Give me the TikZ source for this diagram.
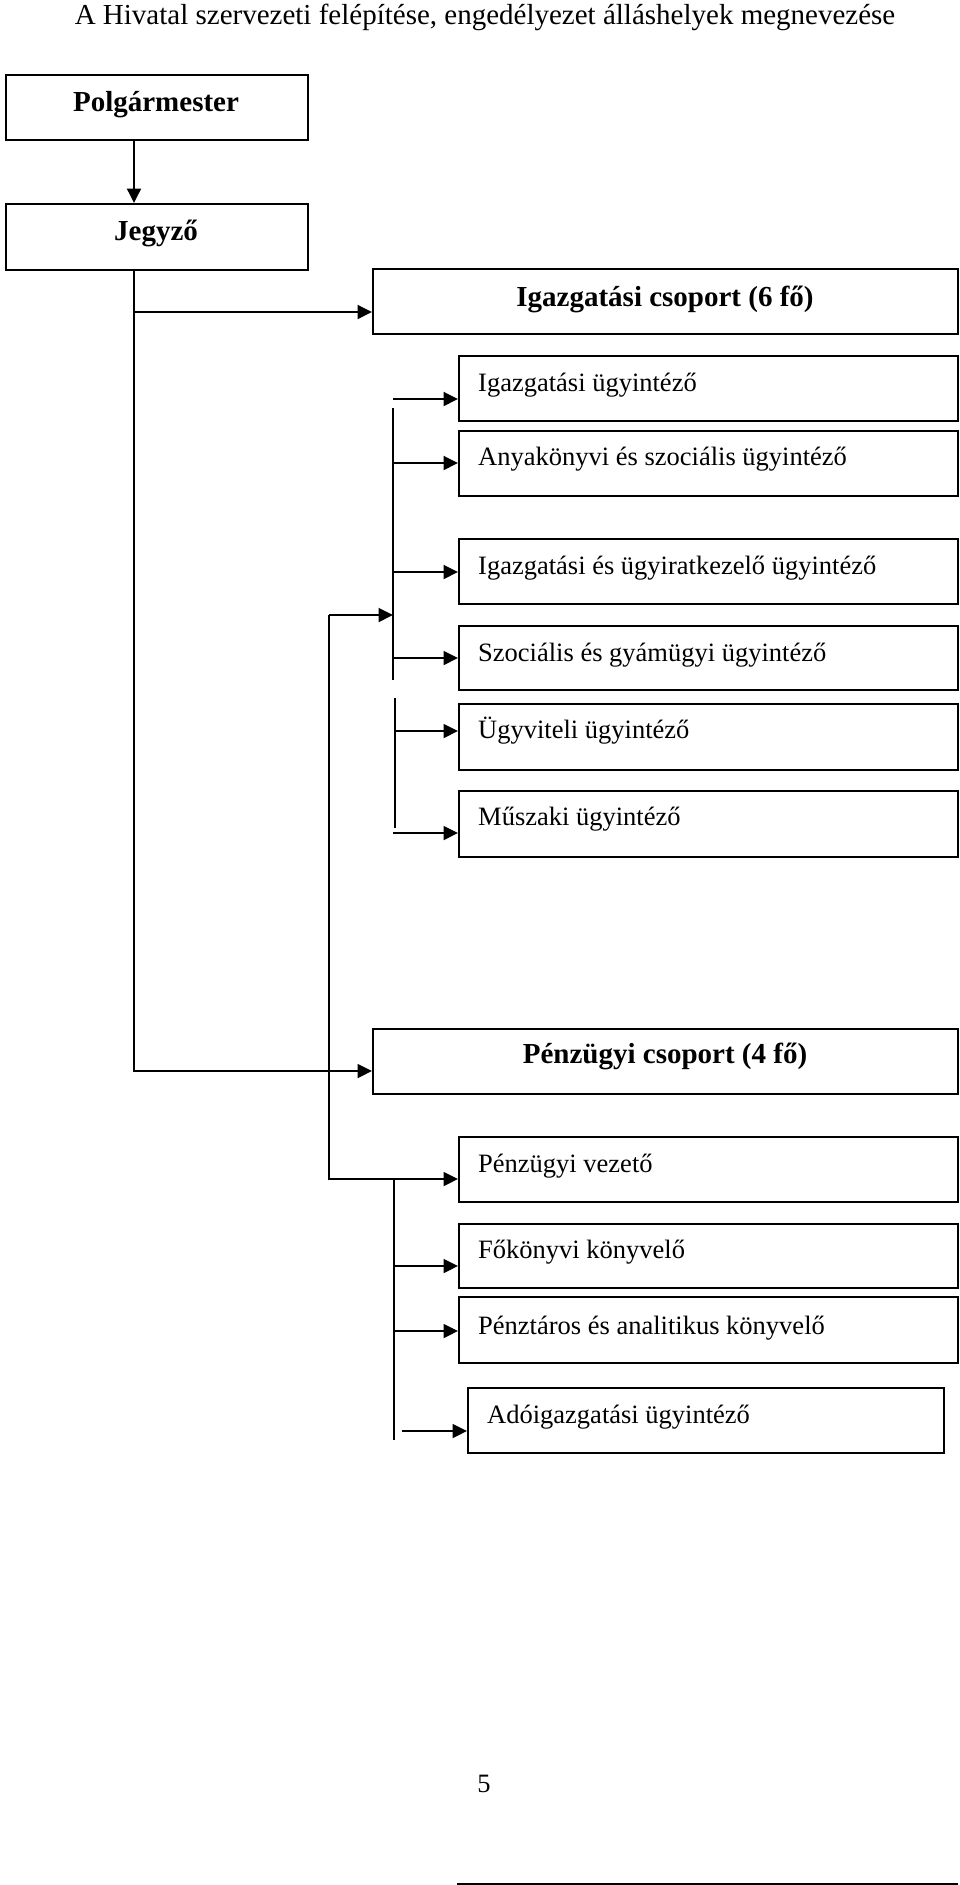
\documentclass[tikz,border=0pt]{standalone}
\usepackage{fontspec}
\setmainfont{Liberation Serif}
\usetikzlibrary{arrows.meta}
\begin{document}
\begin{tikzpicture}[x=1pt,y=-1pt,
  box/.style={draw, line width=2.1pt, inner sep=0pt, anchor=north west},
  conn/.style={line width=1.9pt},
  arr/.style={conn, -{Triangle[length=14.5pt,width=14pt]}},
  reg/.style={anchor=base west, inner sep=0pt, font=\fontsize{26.5}{30}\selectfont},
  hdr/.style={anchor=base, inner sep=0pt, font=\fontsize{29}{33}\selectfont\bfseries},
  plain/.style={anchor=base, inner sep=0pt, font=\fontsize{26.5}{30}\selectfont}]
\useasboundingbox (0,0) rectangle (960,1885);
\fill[white] (0,0) rectangle (960,1885);

% title
\node[plain, font=\fontsize{29}{33}\selectfont] (title) at (485,24) {A Hivatal szervezeti felépítése, engedélyezet álláshelyek megnevezése};

% boxes
\node[box, minimum width=302pt, minimum height=65pt] (pm) at (5,74) {};
\node[box, minimum width=302pt, minimum height=66pt] (jg) at (5,203) {};
\node[box, minimum width=585pt, minimum height=65pt] (ic) at (372,268) {};
\node[box, minimum width=499pt, minimum height=65pt] (b1) at (458,355) {};
\node[box, minimum width=499pt, minimum height=65pt] (b2) at (458,430) {};
\node[box, minimum width=499pt, minimum height=65pt] (b3) at (458,538) {};
\node[box, minimum width=499pt, minimum height=64pt] (b4) at (458,625) {};
\node[box, minimum width=499pt, minimum height=66pt] (b5) at (458,703) {};
\node[box, minimum width=499pt, minimum height=66pt] (b6) at (458,790) {};
\node[box, minimum width=585pt, minimum height=65pt] (pc) at (372,1028) {};
\node[box, minimum width=499pt, minimum height=65pt] (c1) at (458,1136) {};
\node[box, minimum width=499pt, minimum height=64pt] (c2) at (458,1223) {};
\node[box, minimum width=499pt, minimum height=66pt] (c3) at (458,1296) {};
\node[box, minimum width=476pt, minimum height=65pt] (c4) at (467,1387) {};

% texts
\node[hdr] (pmt) at (156,111) {Polgármester};
\node[hdr] (jgt) at (156,240) {Jegyző};
\node[hdr] (ict) at (665,306) {Igazgatási csoport (6 fő)};
\node[reg] (b1t) at (478,391) {Igazgatási ügyintéző};
\node[reg] (b2t) at (478,465) {Anyakönyvi és szociális ügyintéző};
\node[reg] (b3t) at (478,574) {Igazgatási és ügyiratkezelő ügyintéző};
\node[reg] (b4t) at (478,661) {Szociális és gyámügyi ügyintéző};
\node[reg] (b5t) at (478,738) {Ügyviteli ügyintéző};
\node[reg] (b6t) at (478,825) {Műszaki ügyintéző};
\node[hdr] (pct) at (665,1063) {Pénzügyi csoport (4 fő)};
\node[reg] (c1t) at (478,1172) {Pénzügyi vezető};
\node[reg] (c2t) at (478,1258) {Főkönyvi könyvelő};
\node[reg] (c3t) at (478,1334) {Pénztáros és analitikus könyvelő};
\node[reg] (c4t) at (487,1423) {Adóigazgatási ügyintéző};

\node[plain] (pg) at (484,1792) {5};

% coordinates
\coordinate (t1) at (134,0);
\coordinate (icy) at (0,312);
\coordinate (pcy) at (0,1071);
\coordinate (v1a) at (393,408);
\coordinate (v1b) at (393,680);
\coordinate (v2a) at (395,698);
\coordinate (v2b) at (395,828);
\coordinate (s1) at (393,399);
\coordinate (s2) at (393,463);
\coordinate (s3) at (393,572);
\coordinate (s4) at (393,658);
\coordinate (s5) at (395,731);
\coordinate (s6) at (393,833);
\coordinate (j2) at (329,615);
\coordinate (c1y) at (0,1179);
\coordinate (v3a) at (394,1179);
\coordinate (v3b) at (394,1440);
\coordinate (r2) at (394,1266);
\coordinate (r3) at (394,1331);
\coordinate (r4) at (402,1431);

% connectors
\draw[arr] (pm.south -| t1) -- (jg.north -| t1);
\draw[arr] (jg.south -| t1) |- (pc.west |- pcy);
\draw[arr] (t1 |- icy) -- (ic.west |- icy);

\draw[conn] (v1a) -- (v1b);
\draw[conn] (v2a) -- (v2b);
\draw[arr] (s1) -- (b1.west |- s1);
\draw[arr] (s2) -- (b2.west |- s2);
\draw[arr] (s3) -- (b3.west |- s3);
\draw[arr] (s4) -- (b4.west |- s4);
\draw[arr] (s5) -- (b5.west |- s5);
\draw[arr] (s6) -- (b6.west |- s6);

\draw[arr] (j2) -- (v1a |- j2);
\draw[arr] (j2) |- (c1.west |- c1y);

\draw[conn] (v3a) -- (v3b);
\draw[arr] (r2) -- (c2.west |- r2);
\draw[arr] (r3) -- (c3.west |- r3);
\draw[arr] (r4) -- (c4.west |- r4);

% partly visible box at the bottom edge
\draw[line width=2.1pt] (458,1892) -- (458,1884) -- (957,1884) -- (957,1892);
\end{tikzpicture}
\end{document}
